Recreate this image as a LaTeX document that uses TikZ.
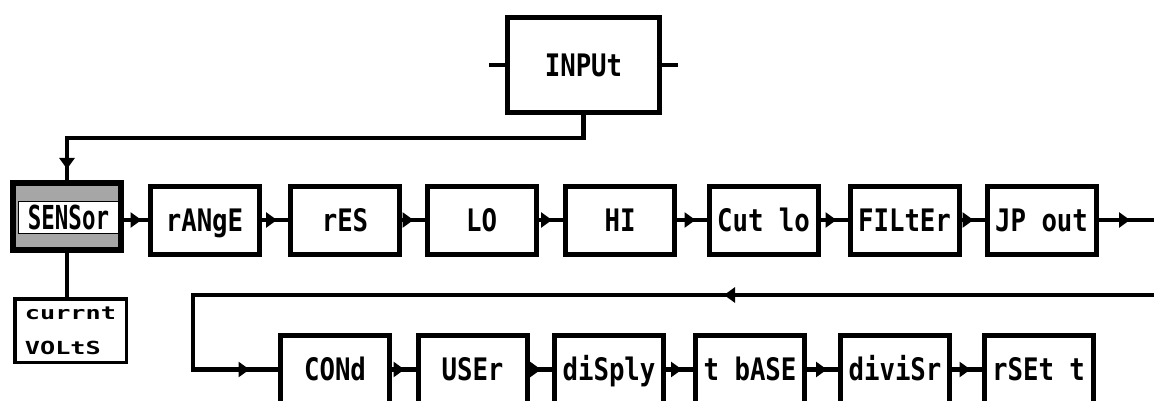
\documentclass[tikz,border=0pt]{standalone}
\usepackage{fontspec}
\usetikzlibrary{arrows.meta,decorations.markings}
\newfontfamily\lcdfont[FakeStretch=0.83]{DejaVu Sans Mono Bold}
\newfontfamily\lcdnarrow[FakeStretch=0.68]{DejaVu Sans Mono Bold}
\newfontfamily\smallfont[FakeStretch=1.4]{DejaVu Sans Mono Bold}
\tikzset{
  flowtip/.tip={Triangle[length=11pt,width=15pt]},
  menubox/.style={draw, line width=5pt, minimum width=109pt, minimum height=68pt,
    inner sep=0pt, text height=22.6pt, text depth=0pt,
    font=\lcdfont\fontsize{31}{31}\selectfont},
  wire/.style={line width=4.5pt},
  link/.style={wire, postaction=decorate,
    decoration={markings, mark=at position -#1 with {\arrow{flowtip}}}},
  link/.default=11pt
}
\begin{document}
\begin{tikzpicture}[x=1pt,y=-1pt]
\useasboundingbox (0,0) rectangle (1154,401);
% input block
\node[menubox, minimum width=152pt, minimum height=95pt] (input) at (583.5,65) {INPUt};
\coordinate (inleft) at (489,65);
\coordinate (inright) at (678,65);
\draw[wire] (input.west) -- (inleft);
\draw[wire] (input.east) -- (inright);
% sensor and its options
\node[draw, line width=6pt, fill=black!35, minimum width=108pt, minimum height=67pt] (sensor) at (67,216.5) {};
\node[draw, fill=white, line width=1.5pt, minimum width=100pt, minimum height=32pt, inner sep=0pt,
  text height=24pt, text depth=0pt, font=\lcdnarrow\fontsize{33}{33}\selectfont] (sensortxt) at (68.5,217.5) {SENSor};
\node[draw, line width=3.5pt, minimum width=111.5pt, minimum height=63.5pt, align=left,
  font=\smallfont\fontsize{18}{35}\selectfont] (volts) at (70.5,330.5) {currnt\\VOLtS};
\coordinate (drop) at (67,138);
\draw[link] (input.south) |- (drop) -- (sensor.north);
\draw[wire] (sensor.south) -- (sensor.south |- volts.north);
% first row
\node[menubox] (range) at (204.5,220) {rANgE};
\node[menubox] (res) at (345,220) {rES};
\node[menubox] (lo) at (481.5,220) {LO};
\node[menubox] (hi) at (620,220) {HI};
\node[menubox] (cutlo) at (763.5,220) {Cut lo};
\node[menubox] (filter) at (904.5,220) {FILtEr};
\node[menubox] (jpout) at (1041.5,220) {JP out};
\coordinate (exit) at (1154,220);
\draw[link=6pt] (sensor.east |- range.west) -- (range.west);
\foreach \a/\b in {range/res, res/lo, lo/hi, hi/cutlo, cutlo/filter, filter/jpout}
  \draw[link] (\a) -- (\b);
\draw[link=24pt] (jpout) -- (exit);
% second row
\node[menubox] (cond) at (335,369.5) {CONd};
\node[menubox] (user) at (472.5,369.5) {USEr};
\node[menubox] (disply) at (609,369.5) {diSply};
\node[menubox] (tbase) at (750,369.5) {t bASE};
\node[menubox] (divisr) at (895,369.5) {diviSr};
\node[menubox] (rsett) at (1038.5,369.5) {rSEt t};
\foreach \a/\b in {cond/user, user/disply, disply/tbase, tbase/divisr, divisr/rsett}
  \draw[link] (\a) -- (\b);
% return line
\coordinate (back) at (1154,295);
\coordinate (turn) at (193,295);
\draw[wire, postaction=decorate,
  decoration={markings, mark=at position 430pt with {\arrow{flowtip}},
    mark=at position -28.5pt with {\arrow{flowtip}}}]
  (back) -- (turn) |- (cond.west);
\end{tikzpicture}
\end{document}
